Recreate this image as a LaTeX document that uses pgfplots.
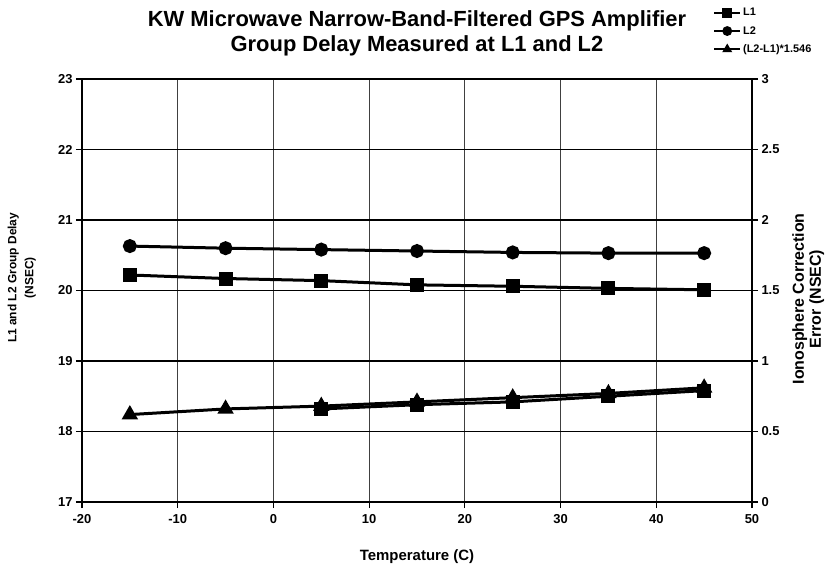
\documentclass[border=0pt]{standalone}
\usepackage{fontspec}
\setmainfont{Liberation Sans}
\usepackage{pgfplots}
\usepackage{pgfplotstable}
\pgfplotsset{compat=1.18}

% group delay (NSEC), left axis
\pgfplotstableread{
T     L1     L2
-15   20.22  20.63
-5    20.17  20.60
5     20.14  20.58
15    20.08  20.56
25    20.06  20.54
35    20.03  20.53
45    20.01  20.53
}\delaytab

% (L2-L1)*1.546, right axis
\pgfplotstableread{
T     corr
-15   0.62
-5    0.66
5     0.68
15    0.71
25    0.74
35    0.77
45    0.81
}\corrtab

% square marks drawn under the triangles
\pgfplotstableread{
T     sq
5     0.66
15    0.69
25    0.71
35    0.75
45    0.79
}\sqtab

\begin{document}
\begin{tikzpicture}
\pgfplotsset{
  every axis/.append style={
    scale only axis, width=670bp, height=423bp,
    xmin=-20, xmax=50,
    /pgf/number format/assume math mode=true,
    ticklabel style={font=\fontsize{13}{13}\selectfont\bfseries},
    tick align=outside, major tick length=6bp,
    every tick/.style={black, line width=1.2bp},
    axis line style={line width=1.6bp},
  },
  dline/.style={black, line width=3bp, mark options={solid, fill=black}},
}

\begin{axis}[
  ymin=17, ymax=23,
  xtick={-20,-10,0,10,20,30,40,50},
  ytick={17,18,19,20,21,22,23},
  xtick pos=bottom, ytick pos=left,
  xticklabel style={yshift=-3bp},
  xmajorgrids, ymajorgrids,
  x grid style={black!75, line width=0.8bp},
  y grid style={black, line width=1.6bp},
  title={KW Microwave Narrow-Band-Filtered GPS Amplifier\\Group Delay Measured at L1 and L2},
  title style={font=\fontsize{22}{26}\selectfont\bfseries, align=center,
    at={(axis description cs:0.5,1)}, anchor=south, yshift=13bp},
  xlabel={Temperature (C)},
  xlabel style={font=\fontsize{15}{15}\selectfont\bfseries,
    at={(axis description cs:0.5,-0.128)}, anchor=center},
  ylabel={L1 and L2 Group Delay\\(NSEC)},
  ylabel style={font=\fontsize{12}{17}\selectfont\bfseries, align=center,
    at={(axis description cs:-0.09,0.53)}, anchor=center},
]
\addplot[dline, mark=square*, mark size=5.5bp] table[x=T, y=L1] {\delaytab};
\addplot[dline, mark=*, mark size=5.5bp] table[x=T, y=L2] {\delaytab};
\end{axis}

\begin{axis}[
  ymin=0, ymax=3,
  ytick={0,0.5,1,1.5,2,2.5,3},
  axis y line*=right, axis x line=none,
  ylabel={Ionosphere Correction\\Error (NSEC)},
  ylabel style={font=\fontsize{16}{17}\selectfont\bfseries, align=center,
    at={(axis description cs:1.084,0.48)}, anchor=center},
  legend style={at={(axis description cs:0.942,1.172)}, anchor=north west,
    draw=none, fill=none, font=\fontsize{11}{12}\selectfont\bfseries,
    row sep=5bp, inner sep=0pt},
  legend cell align=left,
  legend image code/.code={
    \draw[mark repeat=2, mark phase=2, #1, line width=1.8bp, mark size=4bp]
      plot coordinates {(0bp,0bp) (13bp,0bp) (26bp,0bp)};},
]
\addlegendimage{dline, mark=square*}
\addlegendentry{L1}
\addlegendimage{dline, mark=*}
\addlegendentry{L2}
\addplot[dline, mark=square*, mark size=5.5bp, forget plot] table[x=T, y=sq] {\sqtab};
\addplot[dline, mark=triangle*, mark size=6.5bp] table[x=T, y=corr] {\corrtab};
\addlegendentry{(L2-L1)*1.546}
\end{axis}

\pgfresetboundingbox
\useasboundingbox (-82bp,-66bp) rectangle (746bp,502bp);
\end{tikzpicture}
\end{document}
